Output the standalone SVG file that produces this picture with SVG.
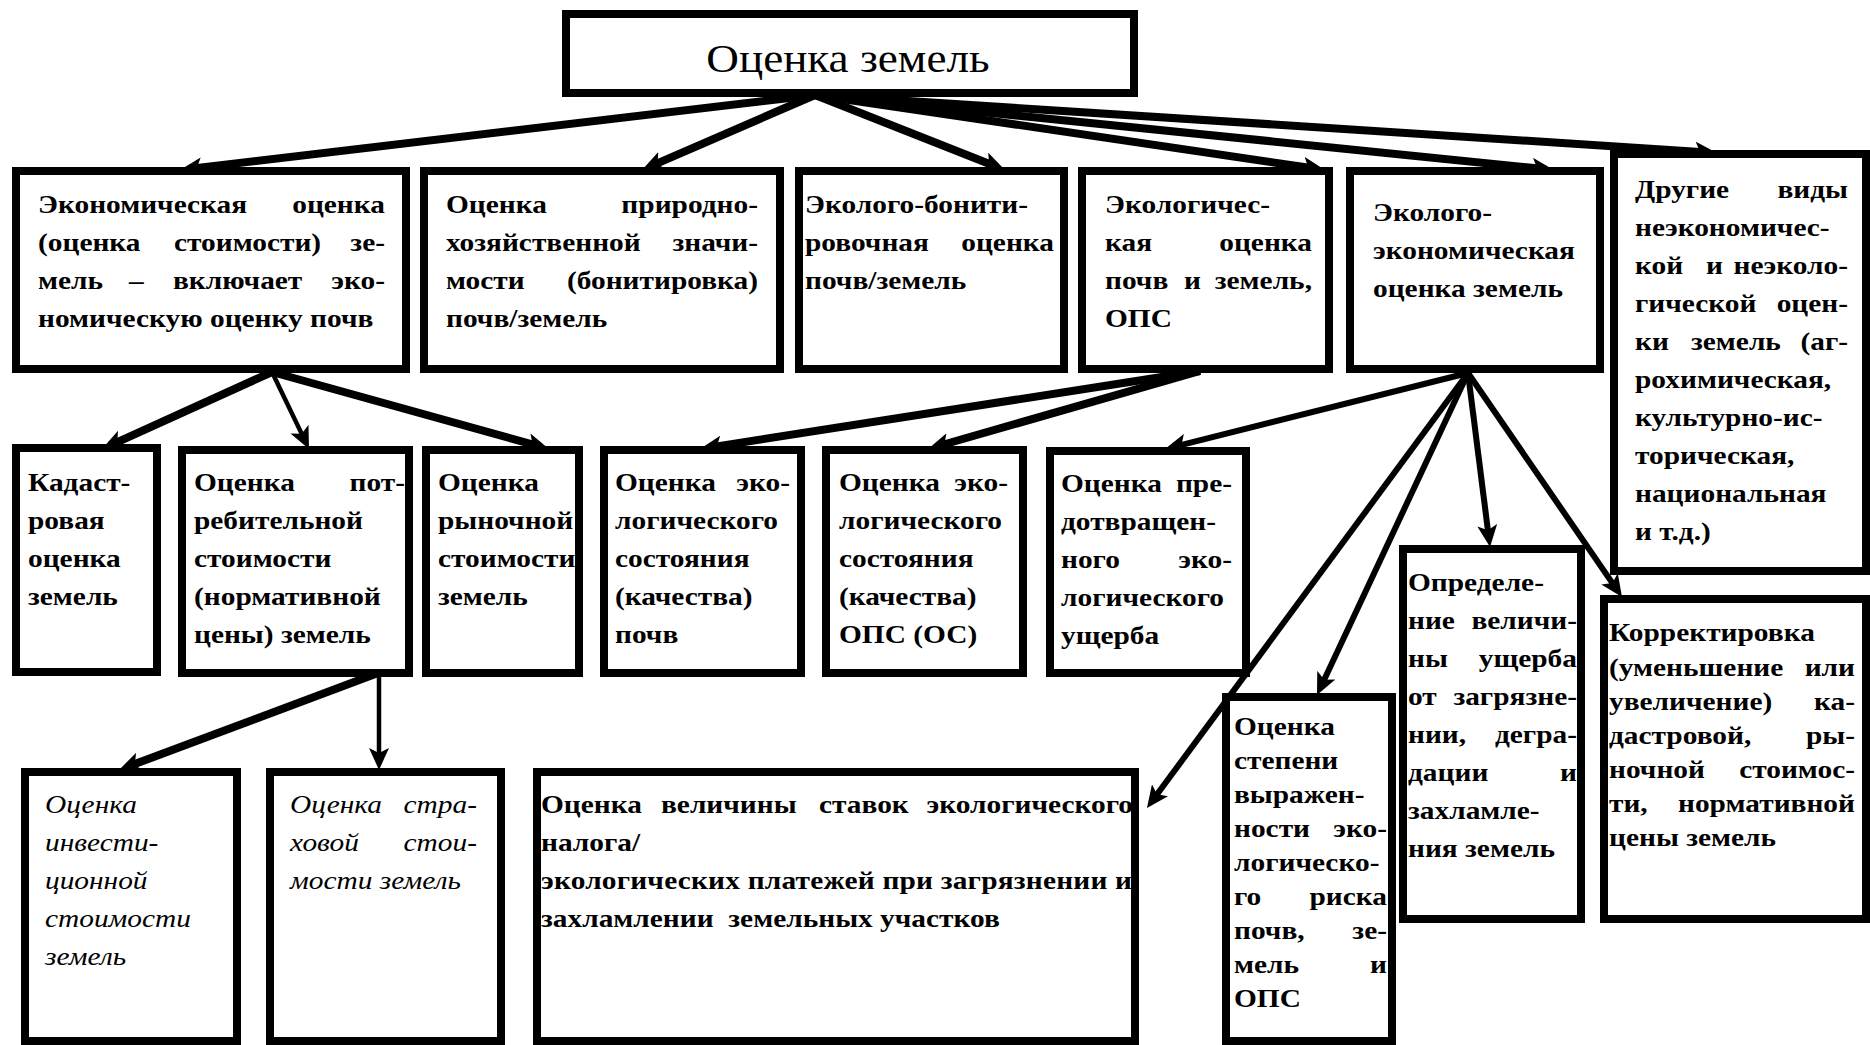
<svg xmlns="http://www.w3.org/2000/svg" width="1870" height="1045" viewBox="0 0 1870 1045">
<style>
.box{fill:#fff;stroke:#000;stroke-width:8}
.t{font-family:"Liberation Serif","Times New Roman",serif;font-size:26px;font-weight:bold;fill:#000;transform-box:fill-box;transform-origin:left;transform:scaleX(1.13)}
.i{font-style:italic;font-weight:normal}
.e{text-anchor:end;transform-origin:right}
.h{font-size:40px;font-weight:normal;text-anchor:middle;transform-origin:center}
.c{stroke:#000;fill:none;stroke-width:8;marker-end:url(#ah)}
.m{stroke-width:6}
.s{stroke-width:4.5}
</style>
<defs>
<marker id="ah" markerUnits="userSpaceOnUse" viewBox="0 0 22 20" markerWidth="22" markerHeight="20" refX="13" refY="10" orient="auto">
<path d="M0,0 L22,10 L0,20 L5,10 z" fill="#000"/>
</marker>
</defs>
<rect width="1870" height="1045" fill="#fff"/>

<g id="connectors">
<line class="c" x1="815" y1="95" x2="188.9" y2="168.9"/>
<line class="c" x1="815" y1="95" x2="650.3" y2="166.4"/>
<line class="c" x1="815" y1="95" x2="996.6" y2="166.7"/>
<line class="c" x1="815" y1="95" x2="1316.1" y2="168.7"/>
<line class="c" x1="815" y1="95" x2="1545.0" y2="169.1"/>
<line class="c" x1="815" y1="95" x2="1708.0" y2="152.4"/>
<line class="c" x1="272" y1="372" x2="110.2" y2="445.3"/>
<line class="c s" x1="272" y1="372" x2="305.1" y2="440.9"/>
<line class="c" x1="272" y1="372" x2="540.3" y2="446.6"/>
<line class="c" x1="1200" y1="371" x2="708.9" y2="447.6"/>
<line class="c" x1="1200" y1="371" x2="936.7" y2="446.5"/>
<line class="c m" x1="1468" y1="373" x2="1173.7" y2="446.8"/>
<line class="c m" x1="1468" y1="373" x2="1152.3" y2="800.8"/>
<line class="c m" x1="1468" y1="373" x2="1320.8" y2="686.9"/>
<line class="c m" x1="1468" y1="373" x2="1488.9" y2="538.1"/>
<line class="c m" x1="1468" y1="373" x2="1616.9" y2="589.6"/>
<line class="c" x1="378" y1="673" x2="127.4" y2="766.8"/>
<line class="c s" x1="379" y1="673" x2="379" y2="761"/>
</g>

<g id="root">
<rect class="box" x="566" y="14" width="568" height="79"/>
<text class="t h" x="848" y="72">Оценка земель</text>
</g>

<g id="n-econ">
<rect class="box" x="16" y="171" width="390" height="198"/>
<text class="t" x="38" y="213">Экономическая</text><text class="t e" x="385" y="213">оценка</text>
<text class="t" x="38" y="251">(оценка</text><text class="t" x="174" y="251">стоимости)</text><text class="t e" x="385" y="251">зе-</text>
<text class="t" x="38" y="289">мель</text><text class="t" x="129" y="289">–</text><text class="t" x="173" y="289">включает</text><text class="t e" x="385" y="289">эко-</text>
<text class="t" x="38" y="327">номическую оценку почв</text>
</g>

<g id="n-bonit">
<rect class="box" x="424" y="171" width="356" height="198"/>
<text class="t" x="446" y="213">Оценка</text><text class="t e" x="758" y="213">природно-</text>
<text class="t" x="446" y="251">хозяйственной</text><text class="t e" x="758" y="251">значи-</text>
<text class="t" x="446" y="289">мости</text><text class="t e" x="758" y="289">(бонитировка)</text>
<text class="t" x="446" y="327">почв/земель</text>
</g>

<g id="n-ekobonit">
<rect class="box" x="799" y="171" width="265" height="198"/>
<text class="t" x="805" y="213">Эколого-бонити-</text>
<text class="t" x="805" y="251">ровочная</text><text class="t e" x="1054" y="251">оценка</text>
<text class="t" x="805" y="289">почв/земель</text>
</g>

<g id="n-ecolog">
<rect class="box" x="1082" y="171" width="247" height="198"/>
<text class="t" x="1105" y="213">Экологичес-</text>
<text class="t" x="1105" y="251">кая</text><text class="t e" x="1312" y="251">оценка</text>
<text class="t" x="1105" y="289">почв</text><text class="t" x="1184" y="289">и</text><text class="t e" x="1312" y="289">земель,</text>
<text class="t" x="1105" y="327">ОПС</text>
</g>

<g id="n-ekoecon">
<rect class="box" x="1350" y="171" width="250" height="198"/>
<text class="t" x="1373" y="221">Эколого-</text>
<text class="t" x="1373" y="259">экономическая</text>
<text class="t" x="1373" y="297">оценка земель</text>
</g>

<g id="n-other">
<rect class="box" x="1614" y="154" width="252" height="417"/>
<text class="t" x="1635" y="198">Другие</text><text class="t e" x="1848" y="198">виды</text>
<text class="t" x="1635" y="236">неэкономичес-</text>
<text class="t" x="1635" y="274">кой</text><text class="t" x="1706" y="274">и</text><text class="t e" x="1848" y="274">неэколо-</text>
<text class="t" x="1635" y="312">гической</text><text class="t e" x="1848" y="312">оцен-</text>
<text class="t" x="1635" y="350">ки</text><text class="t" x="1691" y="350">земель</text><text class="t e" x="1848" y="350">(аг-</text>
<text class="t" x="1635" y="388">рохимическая,</text>
<text class="t" x="1635" y="426">культурно-ис-</text>
<text class="t" x="1635" y="464">торическая,</text>
<text class="t" x="1635" y="502">национальная</text>
<text class="t" x="1635" y="540">и т.д.)</text>
</g>

<g id="n-cadastr">
<rect class="box" x="16" y="448" width="141" height="224"/>
<text class="t" x="28" y="491">Кадаст-</text>
<text class="t" x="28" y="529">ровая</text>
<text class="t" x="28" y="567">оценка</text>
<text class="t" x="28" y="605">земель</text>
</g>

<g id="n-consumer">
<rect class="box" x="182" y="450" width="227" height="223"/>
<text class="t" x="194" y="491">Оценка</text><text class="t e" x="405" y="491">пот-</text>
<text class="t" x="194" y="529">ребительной</text>
<text class="t" x="194" y="567">стоимости</text>
<text class="t" x="194" y="605">(нормативной</text>
<text class="t" x="194" y="643">цены) земель</text>
</g>

<g id="n-market">
<rect class="box" x="426" y="450" width="153" height="223"/>
<text class="t" x="438" y="491">Оценка</text>
<text class="t" x="438" y="529">рыночной</text>
<text class="t" x="438" y="567">стоимости</text>
<text class="t" x="438" y="605">земель</text>
</g>

<g id="n-soilstate">
<rect class="box" x="604" y="450" width="197" height="223"/>
<text class="t" x="615" y="491">Оценка</text><text class="t e" x="790" y="491">эко-</text>
<text class="t" x="615" y="529">логического</text>
<text class="t" x="615" y="567">состояния</text>
<text class="t" x="615" y="605">(качества)</text>
<text class="t" x="615" y="643">почв</text>
</g>

<g id="n-opsstate">
<rect class="box" x="826" y="450" width="197" height="223"/>
<text class="t" x="839" y="491">Оценка</text><text class="t e" x="1008" y="491">эко-</text>
<text class="t" x="839" y="529">логического</text>
<text class="t" x="839" y="567">состояния</text>
<text class="t" x="839" y="605">(качества)</text>
<text class="t" x="839" y="643">ОПС (ОС)</text>
</g>

<g id="n-prevented">
<rect class="box" x="1050" y="451" width="196" height="222"/>
<text class="t" x="1061" y="492">Оценка</text><text class="t e" x="1232" y="492">пре-</text>
<text class="t" x="1061" y="530">дотвращен-</text>
<text class="t" x="1061" y="568">ного</text><text class="t e" x="1232" y="568">эко-</text>
<text class="t" x="1061" y="606">логического</text>
<text class="t" x="1061" y="644">ущерба</text>
</g>

<g id="n-invest">
<rect class="box" x="25" y="772" width="212" height="269"/>
<text class="t i" x="45" y="813">Оценка</text>
<text class="t i" x="45" y="851">инвести-</text>
<text class="t i" x="45" y="889">ционной</text>
<text class="t i" x="45" y="927">стоимости</text>
<text class="t i" x="45" y="965">земель</text>
</g>

<g id="n-insur">
<rect class="box" x="270" y="772" width="231" height="269"/>
<text class="t i" x="290" y="813">Оценка</text><text class="t i e" x="477" y="813">стра-</text>
<text class="t i" x="290" y="851">ховой</text><text class="t i e" x="477" y="851">стои-</text>
<text class="t i" x="290" y="889">мости земель</text>
</g>

<g id="n-tax">
<rect class="box" x="537" y="772" width="598" height="269"/>
<text class="t" x="541" y="813">Оценка</text><text class="t" x="661" y="813">величины</text><text class="t" x="819" y="813">ставок</text><text class="t e" x="1133" y="813">экологического</text>
<text class="t" x="541" y="851">налога/</text>
<text class="t" x="541" y="889" textLength="523" lengthAdjust="spacing">экологических платежей при загрязнении и</text>
<text class="t" x="541" y="927">захламлении&#160; земельных участков</text>
</g>

<g id="n-risk">
<rect class="box" x="1226" y="697" width="166" height="344"/>
<text class="t" x="1234" y="735">Оценка</text>
<text class="t" x="1234" y="769">степени</text>
<text class="t" x="1234" y="803">выражен-</text>
<text class="t" x="1234" y="837">ности</text><text class="t e" x="1387" y="837">эко-</text>
<text class="t" x="1234" y="871">логическо-</text>
<text class="t" x="1234" y="905">го</text><text class="t e" x="1387" y="905">риска</text>
<text class="t" x="1234" y="939">почв,</text><text class="t e" x="1387" y="939">зе-</text>
<text class="t" x="1234" y="973">мель</text><text class="t e" x="1387" y="973">и</text>
<text class="t" x="1234" y="1007">ОПС</text>
</g>

<g id="n-damage">
<rect class="box" x="1403" y="549" width="178" height="370"/>
<text class="t" x="1408" y="591">Определе-</text>
<text class="t" x="1408" y="629">ние</text><text class="t e" x="1577" y="629">величи-</text>
<text class="t" x="1408" y="667">ны</text><text class="t e" x="1577" y="667">ущерба</text>
<text class="t" x="1408" y="705">от</text><text class="t e" x="1577" y="705">загрязне-</text>
<text class="t" x="1408" y="743">нии,</text><text class="t e" x="1577" y="743">дегра-</text>
<text class="t" x="1408" y="781">дации</text><text class="t e" x="1577" y="781">и</text>
<text class="t" x="1408" y="819">захламле-</text>
<text class="t" x="1408" y="857">ния земель</text>
</g>

<g id="n-correct">
<rect class="box" x="1604" y="599" width="262" height="320"/>
<text class="t" x="1609" y="641">Корректировка</text>
<text class="t" x="1609" y="676">(уменьшение</text><text class="t e" x="1855" y="676">или</text>
<text class="t" x="1609" y="710">увеличение)</text><text class="t e" x="1855" y="710">ка-</text>
<text class="t" x="1609" y="744">дастровой,</text><text class="t e" x="1855" y="744">ры-</text>
<text class="t" x="1609" y="778">ночной</text><text class="t e" x="1855" y="778">стоимос-</text>
<text class="t" x="1609" y="812">ти,</text><text class="t e" x="1855" y="812">нормативной</text>
<text class="t" x="1609" y="846">цены земель</text>
</g>
</svg>
